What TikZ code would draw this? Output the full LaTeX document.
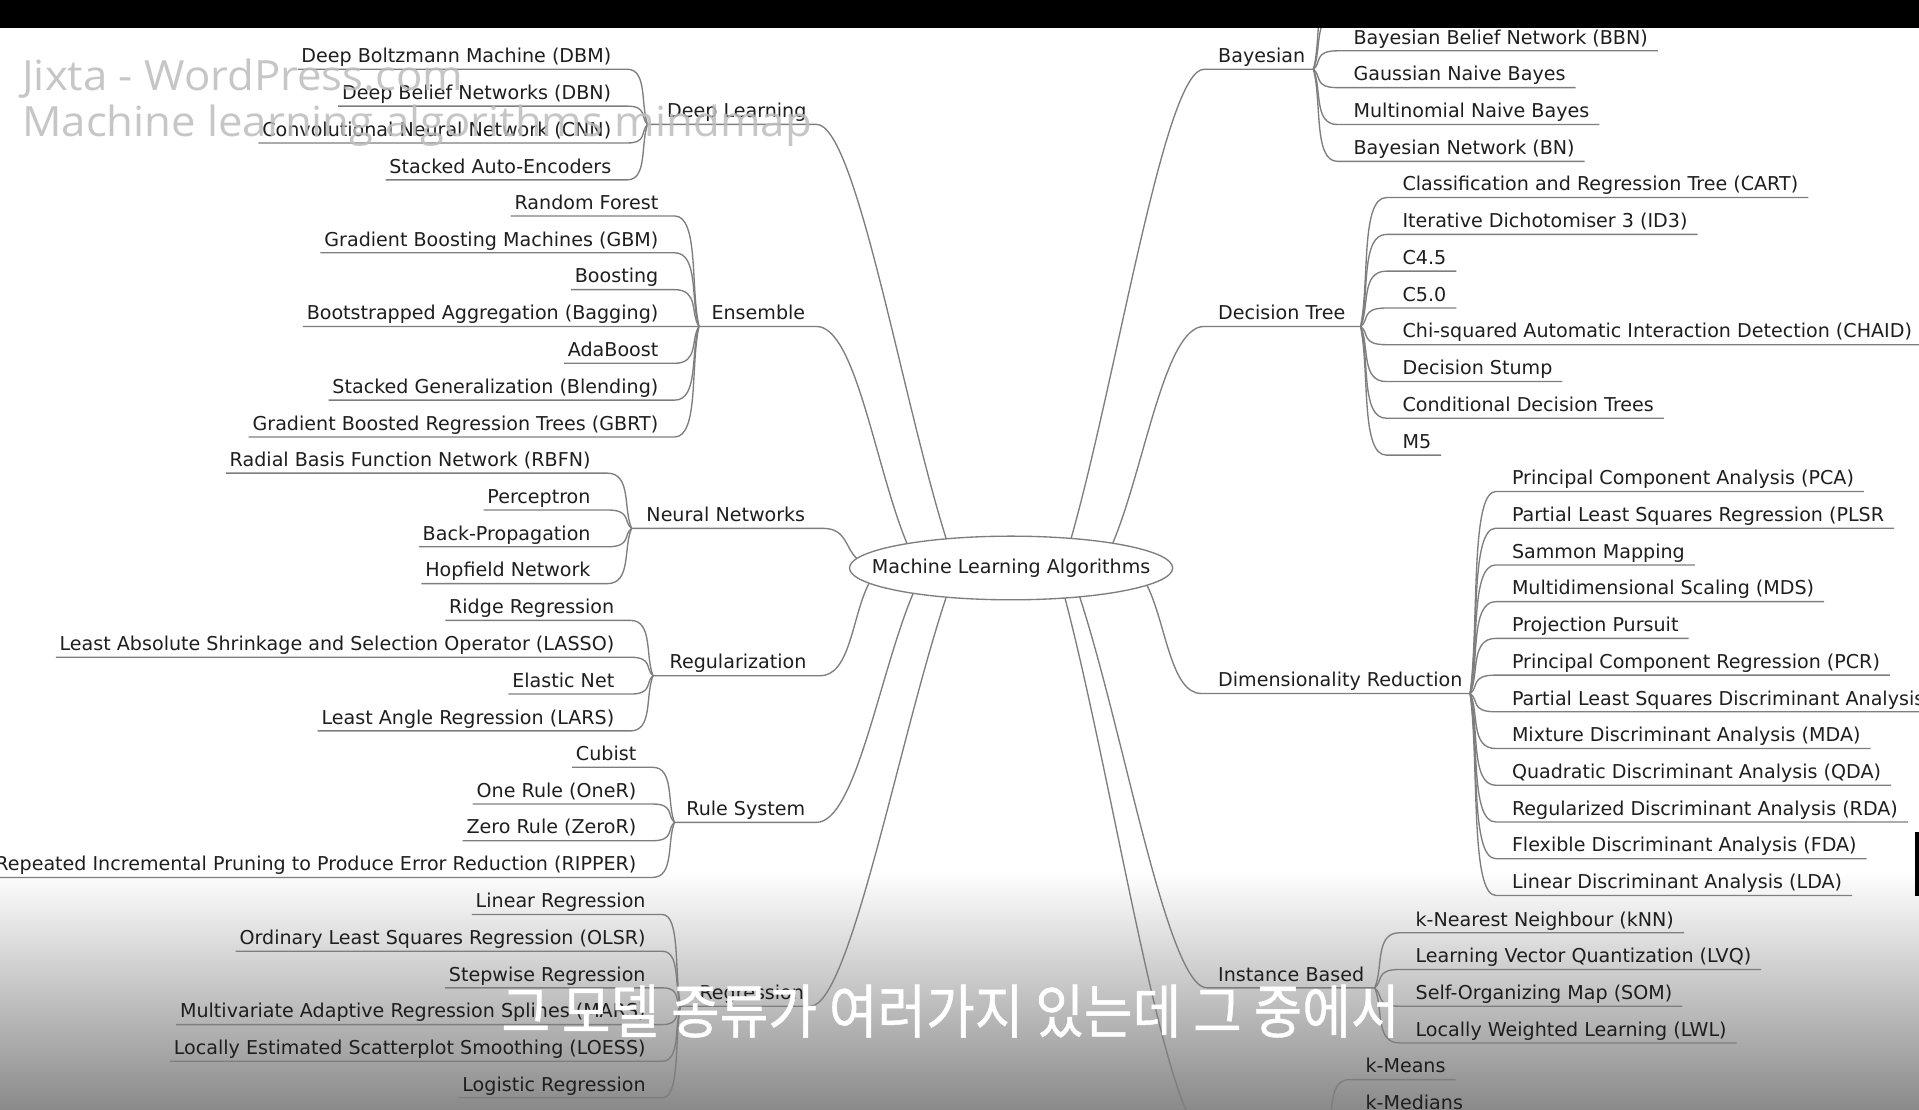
\documentclass[tikz,border=0pt]{standalone}
\usepackage{fontspec}
\setmainfont{DejaVu Sans}
\newfontfamily\wmfont[FakeStretch=1.05]{Open Sans}
\newfontfamily\krfont[FakeBold=0.8]{Noto Sans CJK KR}
\usetikzlibrary{calc,shapes.geometric}
\definecolor{txtc}{HTML}{1E1E1E}
\definecolor{linec}{HTML}{7E7E7E}
\definecolor{wmc}{HTML}{BDBDBD}
\definecolor{gmid}{HTML}{CDCDCD}
\definecolor{gbot}{HTML}{8A8A8A}
\tikzset{
  lbl/.style={font=\fontsize{15.6}{18}\selectfont, text=txtc, inner sep=0pt},
  br/.style={draw=linec, line width=1.1pt},
  rootnode/.style={draw=linec, line width=1.1pt, fill=white, ellipse, minimum width=264pt, minimum height=52pt, inner sep=0pt, font=\fontsize{15.6}{18}\selectfont, text=txtc},
  wm/.style={font=\wmfont\fontsize{34}{36}\selectfont, text=wmc, text opacity=0.85, inner sep=0pt},
  subt/.style={font=\krfont\fontsize{48}{50}\selectfont, text=white, inner sep=0pt}
}
% left child: name, fork, near x, text right x, underline y, text
\newcommand{\lch}[6]{%
  \coordinate (#1n) at (#3,#5);
  \node[lbl, anchor=base east] (#1) at (#4,#5-5.5) {#6};
  \draw[br] (#2) .. controls ($(#2)!0.35!(#1n)$) and (#2 |- #1n) .. (#1n) -- ($(#1.west |- #1n)+(-3,0)$);
}
% right child: name, fork, near x, text left x, underline y, text
\newcommand{\rch}[6]{%
  \coordinate (#1n) at (#3,#5);
  \node[lbl, anchor=base west] (#1) at (#4,#5-5.5) {#6};
  \draw[br] (#2) .. controls ($(#2)!0.35!(#1n)$) and (#2 |- #1n) .. (#1n) -- ($(#1.east |- #1n)+(8,0)$);
}
% main left: name, ellipse pt, near x, fork x, label right x, underline y, text, handle
\newcommand{\mainl}[8]{%
  \coordinate (#1n) at (#3,#6);
  \coordinate (#1f) at (#4,#6);
  \node[lbl, anchor=base east] (#1) at (#5,#6-5.5) {#7};
  \draw[br] (#2) .. controls ($(#2)!0.35!(#1n)$) and ($(#1n)+(#8,0)$) .. (#1n) -- (#1f);
}
% main right: name, ellipse pt, near x, fork x, label left x, underline y, text, handle
\newcommand{\mainr}[8]{%
  \coordinate (#1n) at (#3,#6);
  \coordinate (#1f) at (#4,#6);
  \node[lbl, anchor=base west] (#1) at (#5,#6-5.5) {#7};
  \draw[br] (#2) .. controls ($(#2)!0.35!(#1n)$) and ($(#1n)+(#8,0)$) .. (#1n) -- (#1f);
}
\begin{document}
\begin{tikzpicture}[x=1pt,y=-1pt]
\useasboundingbox (0,0) rectangle (1567.7,906);
\fill[white] (0,0) rectangle (1567.7,906);
\shade[top color=white, middle color=gmid, bottom color=gbot] (0,712) rectangle (1567.7,906);

% root
\node[rootnode] (root) at (826,464) {\makebox[0pt][c]{Machine Learning Algorithms}};
\coordinate (eDL)   at ($(root.center)+(-53,-23.8)$);
\coordinate (eEns)  at ($(root.center)+(-85,-19.9)$);
\coordinate (eNN)   at ($(root.center)+(-126,-7.8)$);
\coordinate (eReg)  at ($(root.center)+(-116,12.4)$);
\coordinate (eRule) at ($(root.center)+(-80,20.7)$);
\coordinate (eRegr) at ($(root.center)+(-53,23.8)$);
\coordinate (eBay)  at ($(root.center)+(49,-24.1)$);
\coordinate (eDT)   at ($(root.center)+(83,-20.2)$);
\coordinate (eDR)   at ($(root.center)+(111,14.1)$);
\coordinate (eIB)   at ($(root.center)+(56,23.5)$);
\coordinate (eClu)  at ($(root.center)+(44,24.5)$);

% main branches, left
\mainl{DL}{eDL}{667}{529}{659}{101.6}{Deep Learning}{32}
\mainl{Ens}{eEns}{667}{571}{658}{266.7}{Ensemble}{32}
\mainl{NN}{eNN}{672}{516}{658}{431.6}{Neural Networks}{20}
\mainl{Reg}{eReg}{670}{533.5}{659}{552}{Regularization}{25}
\mainl{Rule}{eRule}{667}{551}{658}{671.8}{Rule System}{32}
\mainl{Regr}{eRegr}{662}{556}{657}{822}{Regression}{32}
% main branches, right
\mainr{Bay}{eBay}{983.5}{1073}{995}{56.6}{Bayesian}{-32}
\mainr{DT}{eDT}{983.5}{1111.5}{995}{266.7}{Decision Tree}{-32}
\mainr{DR}{eDR}{981.3}{1201}{995}{566.5}{Dimensionality Reduction}{-25}
\mainr{IB}{eIB}{986}{1123}{995}{807}{Instance Based}{-32}
\coordinate (Clun) at (985,927);
\coordinate (Cluf) at (1084,927);
\draw[br] (eClu) .. controls ($(eClu)!0.35!(Clun)$) and ($(Clun)+(-32,0)$) .. (Clun) -- (Cluf);

% Deep Learning
\lch{dl1}{DLf}{512.5}{499.5}{56.6}{Deep Boltzmann Machine (DBM)}
\lch{dl2}{DLf}{512.5}{499.5}{86.7}{Deep Belief Networks (DBN)}
\lch{dl3}{DLf}{512.5}{499.5}{116.8}{Convolutional Neural Network (CNN)}
\lch{dl4}{DLf}{512.5}{499.5}{146.9}{Stacked Auto-Encoders}
% Ensemble
\lch{en1}{Ensf}{551}{538}{176.4}{Random Forest}
\lch{en2}{Ensf}{551}{538}{206.5}{Gradient Boosting Machines (GBM)}
\lch{en3}{Ensf}{551}{538}{236.6}{Boosting}
\lch{en4}{Ensf}{551}{538}{266.7}{Bootstrapped Aggregation (Bagging)}
\lch{en5}{Ensf}{551}{538}{296.8}{AdaBoost}
\lch{en6}{Ensf}{551}{538}{326.9}{Stacked Generalization (Blending)}
\lch{en7}{Ensf}{551}{538}{357.0}{Gradient Boosted Regression Trees (GBRT)}
% Neural Networks
\lch{nn1}{NNf}{496}{482.6}{386.5}{Radial Basis Function Network (RBFN)}
\lch{nn2}{NNf}{496}{482.6}{416.6}{Perceptron}
\lch{nn3}{NNf}{496}{482.6}{446.7}{Back-Propagation}
\lch{nn4}{NNf}{496}{482.6}{476.8}{Hopfield Network}
% Regularization
\lch{rg1}{Regf}{515}{502}{506.8}{Ridge Regression}
\lch{rg2}{Regf}{515}{502}{536.9}{Least Absolute Shrinkage and Selection Operator (LASSO)}
\lch{rg3}{Regf}{515}{502}{567.0}{Elastic Net}
\lch{rg4}{Regf}{515}{502}{597.1}{Least Angle Regression (LARS)}
% Rule System
\lch{rs1}{Rulef}{533}{520}{626.8}{Cubist}
\lch{rs2}{Rulef}{533}{520}{656.8}{One Rule (OneR)}
\lch{rs3}{Rulef}{533}{520}{686.8}{Zero Rule (ZeroR)}
\lch{rs4}{Rulef}{533}{520}{716.8}{Repeated Incremental Pruning to Produce Error Reduction (RIPPER)}
% Regression
\lch{re1}{Regrf}{541}{527.6}{747.1}{Linear Regression}
\lch{re2}{Regrf}{541}{527.6}{777.1}{Ordinary Least Squares Regression (OLSR)}
\lch{re3}{Regrf}{541}{527.6}{807.0}{Stepwise Regression}
\lch{re4}{Regrf}{541}{527.6}{837.0}{Multivariate Adaptive Regression Splines (MARS)}
\lch{re5}{Regrf}{541}{527.6}{866.9}{Locally Estimated Scatterplot Smoothing (LOESS)}
\lch{re5b}{Regrf}{541}{527.6}{896.8}{Logistic Regression}

% Bayesian
\coordinate (bh1n) at (1092.6,11.4);
\coordinate (bh2n) at (1092.6,-18.7);
\draw[br] (Bayf) .. controls ($(Bayf)!0.35!(bh1n)$) and (Bayf |- bh1n) .. (bh1n) -- ++(180,0);
\draw[br] (Bayf) .. controls ($(Bayf)!0.35!(bh2n)$) and (Bayf |- bh2n) .. (bh2n) -- ++(180,0);
\rch{by1}{Bayf}{1092.6}{1105.6}{41.5}{Bayesian Belief Network (BBN)}
\rch{by2}{Bayf}{1092.6}{1105.6}{71.6}{Gaussian Naive Bayes}
\rch{by3}{Bayf}{1092.6}{1105.6}{101.7}{Multinomial Naive Bayes}
\rch{by4}{Bayf}{1092.6}{1105.6}{131.8}{Bayesian Network (BN)}
% Decision Tree
\rch{dt1}{DTf}{1132.6}{1145.6}{161.4}{Classification and Regression Tree (CART)}
\rch{dt2}{DTf}{1132.6}{1145.6}{191.5}{Iterative Dichotomiser 3 (ID3)}
\rch{dt3}{DTf}{1132.6}{1145.6}{221.5}{C4.5}
\rch{dt4}{DTf}{1132.6}{1145.6}{251.6}{C5.0}
\rch{dt5}{DTf}{1132.6}{1145.6}{281.6}{Chi-squared Automatic Interaction Detection (CHAID)}
\rch{dt6}{DTf}{1132.6}{1145.6}{311.7}{Decision Stump}
\rch{dt7}{DTf}{1132.6}{1145.6}{341.7}{Conditional Decision Trees}
\rch{dt8}{DTf}{1132.6}{1145.6}{371.8}{M5}
% Dimensionality Reduction
\rch{dr1}{DRf}{1222}{1235}{401.5}{Principal Component Analysis (PCA)}
\rch{dr2}{DRf}{1222}{1235}{431.5}{Partial Least Squares Regression (PLSR}
\rch{dr3}{DRf}{1222}{1235}{461.5}{Sammon Mapping}
\rch{dr4}{DRf}{1222}{1235}{491.5}{Multidimensional Scaling (MDS)}
\rch{dr5}{DRf}{1222}{1235}{521.5}{Projection Pursuit}
\rch{dr6}{DRf}{1222}{1235}{551.5}{Principal Component Regression (PCR)}
\rch{dr7}{DRf}{1222}{1235}{581.5}{Partial Least Squares Discriminant Analysis}
\rch{dr8}{DRf}{1222}{1235}{611.5}{Mixture Discriminant Analysis (MDA)}
\rch{dr9}{DRf}{1222}{1235}{641.5}{Quadratic Discriminant Analysis (QDA)}
\rch{dr10}{DRf}{1222}{1235}{671.5}{Regularized Discriminant Analysis (RDA)}
\rch{dr11}{DRf}{1222}{1235}{701.5}{Flexible Discriminant Analysis (FDA)}
\rch{dr12}{DRf}{1222}{1235}{731.5}{Linear Discriminant Analysis (LDA)}
% Instance Based
\rch{ib1}{IBf}{1143.3}{1156.3}{762}{k-Nearest Neighbour (kNN)}
\rch{ib2}{IBf}{1143.3}{1156.3}{792}{Learning Vector Quantization (LVQ)}
\rch{ib3}{IBf}{1143.3}{1156.3}{822}{Self-Organizing Map (SOM)}
\rch{ib4}{IBf}{1143.3}{1156.3}{852}{Locally Weighted Learning (LWL)}
% Clustering (label below the frame)
\rch{cl1}{Cluf}{1102.4}{1115.4}{882}{k-Means}
\rch{cl2}{Cluf}{1102.4}{1115.4}{912}{k-Medians}

% watermark
\node[wm, anchor=base west] (wm1) at (18,74) {Jixta - WordPress.com};
\node[wm, anchor=base west] (wm2) at (18,111.6) {Machine learning algorithms mindmap};

% subtitle
\node[subt] (sub) at (776.5,826) {\scalebox{0.9}[1]{그 모델 종류가 여러가지 있는데 그 중에서}};

% video frame bars
\fill[black] (0,0) rectangle (1567.7,23);
\fill[black] (1564.6,680) rectangle (1567.7,732);
\end{tikzpicture}
\end{document}
